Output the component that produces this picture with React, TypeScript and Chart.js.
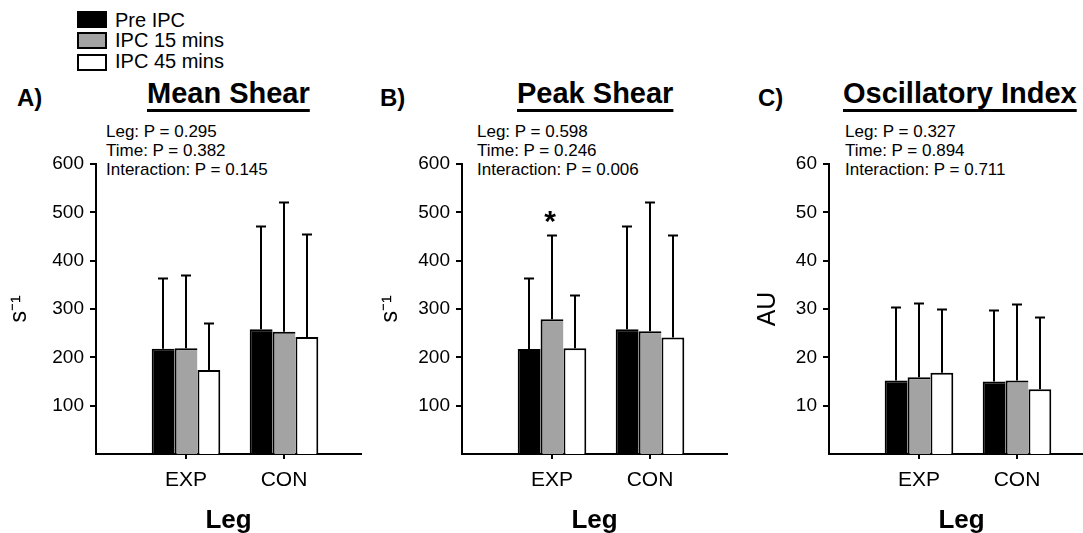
import React, { useEffect, useRef } from 'react';
import { Chart, registerables } from 'chart.js';

Chart.register(...registerables);

const FONT = '"Liberation Sans", Arial, Helvetica, sans-serif';

// ---------- data ----------
const categories = ['EXP', 'CON'];
const seriesNames = ['Pre IPC', 'IPC 15 mins', 'IPC 45 mins'];
const seriesColors = ['#000000', '#a3a3a3', '#ffffff'];

// A) Mean Shear (s^-1)
const meanShearPre = [218, 258];
const meanShear15 = [219, 253];
const meanShear45 = [174, 242];
const meanShearPreSD = [147, 214];
const meanShear15SD = [151, 268];
const meanShear45SD = [98, 213];
const meanShearTicks = [100, 200, 300, 400, 500, 600];
const meanShearStats = ['Leg: P = 0.295', 'Time: P = 0.382', 'Interaction: P = 0.145'];

// B) Peak Shear (s^-1)
const peakShearPre = [217, 258];
const peakShear15 = [279, 254];
const peakShear45 = [219, 241];
const peakShearPreSD = [148, 214];
const peakShear15SD = [175, 267];
const peakShear45SD = [110, 213];
const peakShear15Marks = ['*', ''];
const peakShearTicks = [100, 200, 300, 400, 500, 600];
const peakShearStats = ['Leg: P = 0.598', 'Time: P = 0.246', 'Interaction: P = 0.006'];

// C) Oscillatory Index (AU)
const oscPre = [15.2, 15.0];
const osc15 = [15.9, 15.2];
const osc45 = [16.8, 13.4];
const oscPreSD = [15.2, 14.7];
const osc15SD = [15.3, 15.8];
const osc45SD = [13.1, 15.0];
const oscTicks = [10, 20, 30, 40, 50, 60];
const oscStats = ['Leg: P = 0.327', 'Time: P = 0.894', 'Interaction: P = 0.711'];

// ---------- error bar plugin ----------
const errorBarPlugin = {
  id: 'errorBars',
  afterDatasetsDraw(chart: any, _args: any, opts: any) {
    const { ctx } = chart;
    const yScale = chart.scales.y;
    ctx.save();
    ctx.strokeStyle = '#000';
    ctx.lineWidth = 2;
    chart.data.datasets.forEach((ds: any, di: number) => {
      const meta = chart.getDatasetMeta(di);
      const sd = opts.sd[di];
      const marks = opts.marks ? opts.marks[di] : null;
      meta.data.forEach((el: any, i: number) => {
        const v = ds.data[i].y as number;
        const top = Math.round(yScale.getPixelForValue(v + sd[i])) + 0.5;
        const x = Math.round(el.x);
        ctx.beginPath();
        ctx.moveTo(x, el.y);
        ctx.lineTo(x, top);
        ctx.stroke();
        ctx.beginPath();
        ctx.moveTo(x - 5, top);
        ctx.lineTo(x + 5, top);
        ctx.stroke();
        if (marks && marks[i]) {
          ctx.fillStyle = '#000';
          ctx.font = `bold 30px ${FONT}`;
          ctx.textAlign = 'center';
          ctx.textBaseline = 'alphabetic';
          ctx.fillText(marks[i], x - 2, top - 5);
        }
      });
    });
    ctx.restore();
  },
};

type PanelCfg = {
  left: number;
  values: number[][];
  sds: number[][];
  marks?: string[][];
  yMax: number;
  yTicks: number[];
  yTitle: string;
  yTitleSize: number;
  yTitlePad: number;
};

const CANVAS_W = 370;
const CANVAS_H = 436;
const CANVAS_TOP = 100;
const X_MIN = 1 - 90 / 98;
const X_MAX = 2 + 77 / 98;

function makeChart(canvas: HTMLCanvasElement, cfg: PanelCfg) {
  const datasets = cfg.values.map((vals, si) => ({
    label: seriesNames[si],
    data: categories.map((_, i) => ({ x: i + 1, y: vals[i] })),
    backgroundColor: seriesColors[si],
    borderColor: '#000',
    borderWidth: si === 2 ? { top: 2, left: 2, right: 2, bottom: 0 } : { top: 2, left: 2, right: 0, bottom: 0 },
    borderSkipped: false,
    barPercentage: 1.0,
    categoryPercentage: 0.7,
  }));
  return new Chart(canvas, {
    type: 'bar',
    data: { datasets } as any,
    plugins: [errorBarPlugin as any],
    options: {
      animation: false,
      responsive: false,
      maintainAspectRatio: false,
      layout: { padding: { left: 0, right: 9, top: 64, bottom: 0 } },
      plugins: {
        legend: { display: false },
        tooltip: { enabled: false },
        errorBars: { sd: cfg.sds, marks: cfg.marks },
      } as any,
      scales: {
        x: {
          type: 'linear',
          offset: false,
          min: X_MIN,
          max: X_MAX,
          afterBuildTicks: (s: any) => {
            s.ticks = categories.map((_, i) => ({ value: i + 1 }));
          },
          afterFit: (s: any) => {
            s.height = 82;
          },
          ticks: {
            callback: (v: any) => categories[Number(v) - 1] ?? '',
            font: { size: 21, family: FONT },
            color: '#000',
            padding: 9,
            autoSkip: false,
            maxRotation: 0,
          },
          grid: { offset: false, drawOnChartArea: false, color: '#000', lineWidth: 2, tickLength: 5 },
          border: { color: '#000', width: 2 },
          title: {
            display: true,
            text: 'Leg',
            color: '#000',
            font: { size: 26, weight: 'bold', family: FONT },
            padding: { top: 0, bottom: 0 },
          },
        },
        y: {
          min: 0,
          max: cfg.yMax,
          afterBuildTicks: (s: any) => {
            s.ticks = cfg.yTicks.map((v) => ({ value: v }));
          },
          afterFit: (s: any) => {
            s.width = 96;
          },
          ticks: {
            font: { size: 19, family: FONT },
            color: '#000',
            padding: 6,
            autoSkip: false,
          },
          grid: { drawOnChartArea: false, color: '#000', lineWidth: 2, tickLength: 6 },
          border: { color: '#000', width: 2 },
          title: {
            display: true,
            text: cfg.yTitle,
            color: '#000',
            font: { size: cfg.yTitleSize, family: FONT },
            padding: { top: cfg.yTitlePad, bottom: 0 },
          },
        },
      } as any,
    },
  });
}

const panels: PanelCfg[] = [
  {
    left: 0,
    values: [meanShearPre, meanShear15, meanShear45],
    sds: [meanShearPreSD, meanShear15SD, meanShear45SD],
    yMax: 600,
    yTicks: meanShearTicks,
    yTitle: 's⁻¹',
    yTitleSize: 23,
    yTitlePad: 6,
  },
  {
    left: 366,
    values: [peakShearPre, peakShear15, peakShear45],
    sds: [peakShearPreSD, peakShear15SD, peakShear45SD],
    marks: [['', ''], peakShear15Marks, ['', '']],
    yMax: 600,
    yTicks: peakShearTicks,
    yTitle: 's⁻¹',
    yTitleSize: 23,
    yTitlePad: 11,
  },
  {
    left: 733,
    values: [oscPre, osc15, osc45],
    sds: [oscPreSD, osc15SD, osc45SD],
    yMax: 60,
    yTicks: oscTicks,
    yTitle: 'AU',
    yTitleSize: 25,
    yTitlePad: 20,
  },
];

const titles = [
  { letter: 'A)', letterX: 17, title: 'Mean Shear', titleX: 147, statsX: 106, stats: meanShearStats },
  { letter: 'B)', letterX: 380, title: 'Peak Shear', titleX: 517, statsX: 477, stats: peakShearStats },
  { letter: 'C)', letterX: 758, title: 'Oscillatory Index', titleX: 843, statsX: 845, stats: oscStats },
];

export default function App() {
  const refs = [useRef<HTMLCanvasElement>(null), useRef<HTMLCanvasElement>(null), useRef<HTMLCanvasElement>(null)];

  useEffect(() => {
    const charts = panels.map((p, i) => makeChart(refs[i].current as HTMLCanvasElement, p));
    return () => charts.forEach((c) => c.destroy());
  }, []);

  return (
    <div
      style={{
        position: 'fixed',
        left: 0,
        top: 0,
        width: 1083,
        height: 533,
        overflow: 'hidden',
        background: '#fff',
        fontFamily: FONT,
        color: '#000',
      }}
    >
      {/* legend */}
      {seriesNames.map((name, i) => (
        <React.Fragment key={name}>
          <div
            style={{
              position: 'absolute',
              left: 77,
              top: [11, 32, 54][i],
              width: 30,
              height: 17,
              boxSizing: 'border-box',
              border: '2px solid #000',
              background: seriesColors[i],
            }}
          />
          <div
            style={{
              position: 'absolute',
              left: 115,
              top: [27, 47, 68][i] - 16.9,
              fontSize: 20,
              lineHeight: '20px',
              whiteSpace: 'nowrap',
            }}
          >
            {name}
          </div>
        </React.Fragment>
      ))}

      {titles.map((t) => (
        <React.Fragment key={t.letter}>
          <div
            style={{
              position: 'absolute',
              left: t.letterX,
              top: 106 - 20.3,
              fontSize: 24,
              lineHeight: '24px',
              fontWeight: 'bold',
              whiteSpace: 'nowrap',
            }}
          >
            {t.letter}
          </div>
          <div
            style={{
              position: 'absolute',
              left: t.titleX,
              top: 103 - 24.5,
              fontSize: 29,
              lineHeight: '29px',
              fontWeight: 'bold',
              whiteSpace: 'nowrap',
              textDecoration: 'underline',
              textDecorationThickness: '3px',
              textUnderlineOffset: '6px',
              textDecorationSkipInk: 'none',
            }}
          >
            {t.title}
          </div>
          <div
            style={{
              position: 'absolute',
              left: t.statsX,
              top: 137 - 15.4,
              fontSize: 17,
              lineHeight: '19px',
              whiteSpace: 'nowrap',
            }}
          >
            {t.stats.map((s) => (
              <div key={s}>{s}</div>
            ))}
          </div>
        </React.Fragment>
      ))}

      {panels.map((p, i) => (
        <canvas
          key={i}
          ref={refs[i]}
          width={CANVAS_W}
          height={CANVAS_H}
          style={{ position: 'absolute', left: p.left, top: CANVAS_TOP, width: CANVAS_W, height: CANVAS_H }}
        />
      ))}
    </div>
  );
}
